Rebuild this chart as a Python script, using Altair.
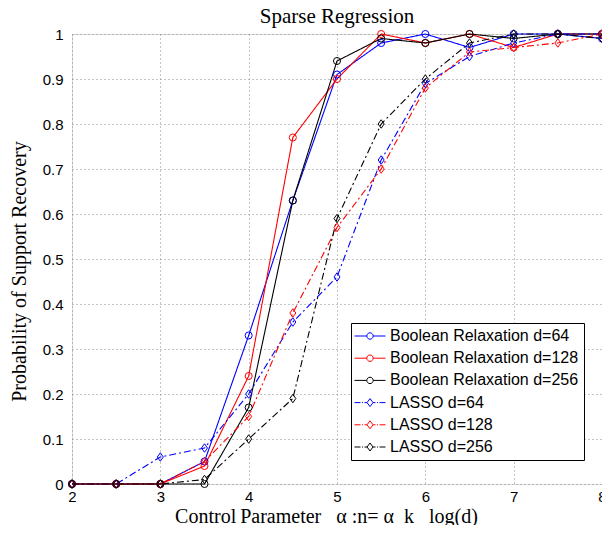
import altair as alt
import pandas as pd

# ---- data ----
alpha = [2, 2.5, 3, 3.5, 4, 4.5, 5, 5.5, 6, 6.5, 7, 7.5, 8]
bool64 = [0, 0, 0, 0.05, 0.33, 0.63, 0.91, 0.98, 1.00, 0.97, 1.00, 1.00, 0.99]
bool128 = [0, 0, 0, 0.04, 0.24, 0.77, 0.90, 1.00, 0.98, 1.00, 0.97, 1.00, 1.00]
bool256 = [0, 0, 0, 0.00, 0.17, 0.63, 0.94, 0.99, 0.98, 1.00, 0.99, 1.00, 1.00]
lasso64 = [0, 0, 0.06, 0.08, 0.20, 0.36, 0.46, 0.72, 0.89, 0.95, 0.98, 1.00, 1.00]
lasso128 = [0, 0, 0, 0.05, 0.15, 0.38, 0.57, 0.70, 0.88, 0.96, 0.97, 0.98, 1.00]
lasso256 = [0, 0, 0, 0.01, 0.10, 0.19, 0.59, 0.80, 0.90, 0.98, 1.00, 1.00, 0.99]

series_names = [
    "Boolean Relaxation d=64",
    "Boolean Relaxation d=128",
    "Boolean Relaxation d=256",
    "LASSO d=64",
    "LASSO d=128",
    "LASSO d=256",
]
series_values = [bool64, bool128, bool256, lasso64, lasso128, lasso256]
series_colors = ["#0000ff", "#ff0000", "#000000", "#0000ff", "#ff0000", "#000000"]

x_ticks = [2, 3, 4, 5, 6, 7, 8]
y_ticks = [0, 0.1, 0.2, 0.3, 0.4, 0.5, 0.6, 0.7, 0.8, 0.9, 1]

rows = []
for name, vals in zip(series_names, series_values):
    for a, v in zip(alpha, vals):
        rows.append({"alpha": a, "value": v, "series": name})
df = pd.DataFrame(rows)

# ---- styles ----
SOLID = [1, 0]
DASHDOT = [7, 3, 2, 3]
dash_range = [SOLID, SOLID, SOLID, DASHDOT, DASHDOT, DASHDOT]
diamond = "M0,-1.2L0.85,0L0,1.2L-0.85,0Z"
shape_range = ["circle", "circle", "circle", diamond, diamond, diamond]

# legend symbols: line + marker drawn in one path
leg_circle = ("M-3.1,0L-0.64,0M0.64,0L3.1,0"
              "M0.64,0A0.64,0.64,0,1,1,-0.64,0A0.64,0.64,0,1,1,0.64,0")
leg_diamond = ("M-3.1,0L-1.9,0M-1.6,0L-1.4,0M-1.1,0L-0.6,0"
               "M0.6,0L1.1,0M1.4,0L1.6,0M1.9,0L3.1,0"
               "M0,-0.8L0.6,0L0,0.8L-0.6,0Z")
leg_range = [leg_circle] * 3 + [leg_diamond] * 3

SERIF = "Liberation Serif"
SANS = "Liberation Sans"

x_enc = alt.X(
    "alpha:Q",
    scale=alt.Scale(domain=[2, 8], nice=False, zero=False),
    axis=alt.Axis(
        values=x_ticks, format="~g", grid=True, ticks=False, domain=False,
        labelFont=SANS, labelFontSize=15, labelColor="#000", labelPadding=5,
        labelFlush=False, labelOverlap=False,
        title="Control\u2009Parameter\u00a0\u00a0\u00a0α\u00a0:n=\u00a0α\u00a0\u00a0k\u00a0\u00a0\u00a0log(d)",
        titleFont=SERIF, titleFontSize=20, titleFontWeight="normal",
        titleColor="#000", titleX=254, titleY=32, titleBaseline="middle",
        titleAlign="center",
        gridDash=[1, 3], gridColor="#8a8a8a", gridWidth=1,
    ),
)
y_enc = alt.Y(
    "value:Q",
    scale=alt.Scale(domain=[0, 1], nice=False),
    axis=alt.Axis(
        values=y_ticks, format="~g", grid=True, ticks=False, domain=False,
        labelFont=SANS, labelFontSize=15, labelColor="#000", labelPadding=9,
        labelFlush=False, labelOverlap=False,
        title="Probability of Support Recovery",
        titleFont=SERIF, titleFontSize=20, titleFontWeight="normal",
        titleColor="#000", titleX=-53, titleY=237, titleBaseline="middle",
        titleAlign="center", titleAngle=-90,
        gridDash=[1, 3], gridColor="#8a8a8a", gridWidth=1,
    ),
)

color_scale = alt.Scale(domain=series_names, range=series_colors)

lines = alt.Chart(df).mark_line(strokeWidth=1.1).encode(
    x=x_enc,
    y=y_enc,
    color=alt.Color("series:N", scale=color_scale, legend=None),
    strokeDash=alt.StrokeDash(
        "series:N", scale=alt.Scale(domain=series_names, range=dash_range), legend=None
    ),
)

points = alt.Chart(df).mark_point(filled=False, size=50, strokeWidth=1, opacity=1).encode(
    x=x_enc,
    y=y_enc,
    color=alt.Color("series:N", scale=color_scale, legend=None),
    shape=alt.Shape(
        "series:N", scale=alt.Scale(domain=series_names, range=shape_range), legend=None
    ),
)

legend_layer = alt.Chart(df).mark_point(filled=False, opacity=0).encode(
    x=x_enc,
    y=y_enc,
    color=alt.Color(
        "series:N", scale=color_scale,
        legend=alt.Legend(
            title=None, orient="none", legendX=279, legendY=289, offset=0,
            symbolSize=100, symbolStrokeWidth=1, symbolOpacity=1,
            symbolOffset=6, labelOffset=12, columnPadding=0,
            labelFont=SANS, labelFontSize=16, labelColor="#000",
            labelLimit=400, rowPadding=6.2,
            padding=5, strokeColor="#000", fillColor="#ffffff",
        ),
    ),
    shape=alt.Shape(
        "series:N", scale=alt.Scale(domain=series_names, range=leg_range),
        legend=alt.Legend(title=None),
    ),
)

chart = (
    alt.layer(lines, points, legend_layer)
    .resolve_scale(color="independent", shape="independent", strokeDash="independent")
    .properties(
        width=530,
        height=450,
        title=alt.TitleParams(
            "Sparse Regression", font=SERIF, fontSize=21, fontWeight="normal",
            color="#000", anchor="middle", offset=4, dy=4,
        ),
        autosize=alt.AutoSizeParams(type="none"),
        padding={"left": 64, "top": 26, "right": 0, "bottom": 41},
    )
    .configure_view(stroke="#000", strokeWidth=1.2)
    .configure(background="#ffffff")
)

chart.save("out.html", embed_options={"renderer": "svg", "actions": False})
